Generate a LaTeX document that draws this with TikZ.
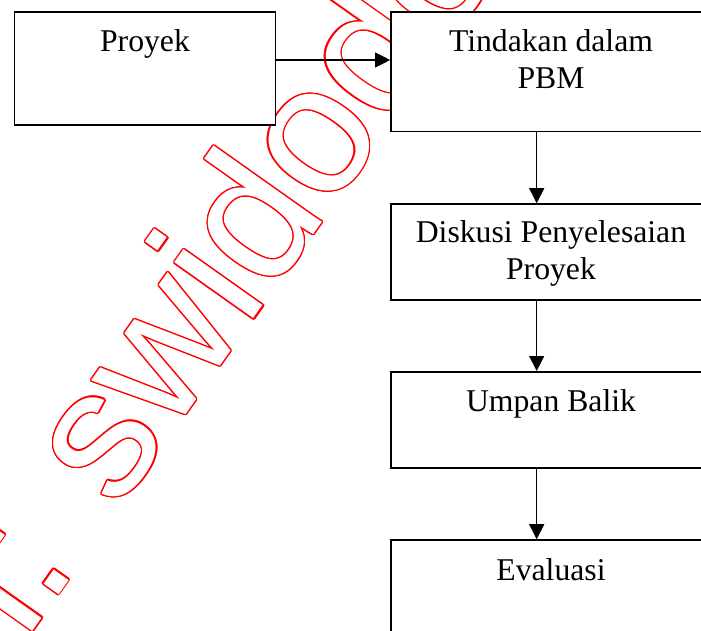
\documentclass[tikz,border=0pt]{standalone}
\usepackage{fontspec}
\setmainfont{Liberation Serif}
\newfontfamily\wmfont{Liberation Sans}
\usetikzlibrary{arrows.meta}
\begin{document}
\begin{tikzpicture}[x=0.5pt,y=-0.5pt,
  box/.style={draw=black, line width=0.8pt, fill=white, rectangle, inner sep=0pt},
  lbl/.style={inner sep=0pt, anchor=base, font=\fontsize{15.85pt}{18.5pt}\selectfont},
  arr/.style={draw=black, line width=0.55pt, -{Triangle[length=7.5pt,width=7.5pt]}},
  wm/.style={inner sep=0pt, outer sep=0pt, anchor=base west, rotate=54.7, font=\wmfont\fontsize{91.5pt}{91.5pt}\selectfont}]
\useasboundingbox (0,0) rectangle (701,631);
\clip (0,0) rectangle (701,631);
\fill[white] (0,0) rectangle (701,631);
% watermark (outlined red text)
\foreach \a [count=\i] in {0,22.5,...,337.5}
  \node[wm, text=red, shift={(\a:0.7pt)}] (wmc\i) at (25.75,641.2) {l: swidodo};
\node[wm, text=white] (wmark) at (25.75,641.2) {l: swidodo};
% boxes
\node[box, minimum width=130.6pt, minimum height=56.5pt] (proyek) at (144.9,68.5) {};
\node[box, minimum width=160pt, minimum height=59.7pt] (tindakan) at (551,72) {};
\node[box, minimum width=160pt, minimum height=47.9pt] (diskusi) at (551,251.9) {};
\node[box, minimum width=160pt, minimum height=48.1pt] (umpan) at (551,419.9) {};
\node[box, minimum width=160pt, minimum height=48pt] (evaluasi) at (551,588) {};
% labels
\node[lbl] (tProyek) at (145,51.5) {Proyek};
\node[lbl] (tTind1) at (551,51.5) {Tindakan dalam};
\node[lbl] (tTind2) at (551,88.5) {PBM};
\node[lbl] (tDisk1) at (551,242.7) {Diskusi Penyelesaian};
\node[lbl] (tDisk2) at (551,279.7) {Proyek};
\node[lbl] (tUmpan) at (551,411.3) {Umpan Balik};
\node[lbl] (tEval) at (551,580) {Evaluasi};
% connectors
\draw[arr] ([yshift=4.25pt]proyek.east) -- ([yshift=6pt]tindakan.west);
\draw[arr] ([xshift=-7.15pt]tindakan.south) -- ([xshift=-7.15pt]diskusi.north);
\draw[arr] ([xshift=-7.15pt]diskusi.south) -- ([xshift=-7.15pt]umpan.north);
\draw[arr] ([xshift=-7.15pt]umpan.south) -- ([xshift=-7.15pt]evaluasi.north);
\end{tikzpicture}
\end{document}
